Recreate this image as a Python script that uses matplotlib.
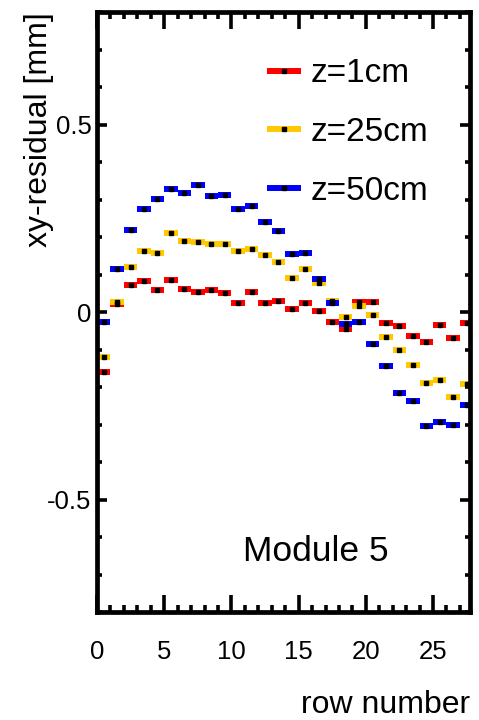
import numpy as np
import matplotlib
matplotlib.use("Agg")
from matplotlib import pyplot as plt
from matplotlib.ticker import MultipleLocator, FuncFormatter

plt.rcParams['font.family'] = ['Liberation Sans', 'DejaVu Sans']
plt.rcParams['axes.unicode_minus'] = False

# residuals per row, one list per z position
rows = np.arange(28) + 0.5
res_z1 = [-0.160, 0.022, 0.072, 0.083, 0.058, 0.085, 0.061, 0.054, 0.058, 0.051,
          0.023, 0.054, 0.023, 0.030, 0.009, 0.023, 0.003, -0.026, -0.046, 0.027,
          0.027, -0.028, -0.036, -0.063, -0.080, -0.035, -0.070, -0.028]
res_z25 = [-0.119, 0.027, 0.120, 0.164, 0.157, 0.211, 0.189, 0.186, 0.182, 0.182,
           0.162, 0.168, 0.152, 0.133, 0.092, 0.116, 0.078, 0.030, -0.014, 0.016,
           -0.008, -0.067, -0.101, -0.140, -0.188, -0.180, -0.226, -0.191]
res_z50 = [-0.026, 0.116, 0.220, 0.276, 0.302, 0.328, 0.317, 0.339, 0.310, 0.313,
           0.276, 0.283, 0.241, 0.217, 0.155, 0.157, 0.089, 0.023, -0.032, -0.026,
           -0.084, -0.143, -0.215, -0.236, -0.305, -0.292, -0.301, -0.249]

series = [(res_z1, '#ff0000', 'z=1cm'),
          (res_z25, '#ffc800', 'z=25cm'),
          (res_z50, '#0000ff', 'z=50cm')]

fig = plt.figure(figsize=(4.79, 7.2), dpi=100)
ax = fig.add_axes([0.2025, 0.15, 0.7787, 0.8333])

for vals, col, lab in series:
    ax.errorbar(rows, vals, xerr=0.5, fmt='s', ms=2.3, mfc='k', mec='k',
                ecolor=col, elinewidth=4.3, capsize=0, label=lab)

ax.set_xlim(0, 27.75)
ax.set_ylim(-0.8, 0.8)

ax.xaxis.set_major_locator(MultipleLocator(5))
ax.xaxis.set_minor_locator(MultipleLocator(1))
ax.yaxis.set_major_locator(MultipleLocator(0.5))
ax.yaxis.set_minor_locator(MultipleLocator(0.1))
ax.yaxis.set_major_formatter(FuncFormatter(lambda v, p: '%g' % round(v, 2)))

for s in ax.spines.values():
    s.set_linewidth(3.4)
ax.tick_params(axis='both', which='both', direction='in', top=True, right=True,
               width=2.6, labelsize=18.5)
ax.tick_params(axis='x', which='major', length=12, pad=20)
ax.tick_params(axis='x', which='minor', length=5)
ax.tick_params(axis='y', which='major', length=7, pad=4)
ax.tick_params(axis='y', which='minor', length=3.5)

ax.set_xlabel('row number', fontsize=23, loc='right')
ax.xaxis.set_label_coords(1.0, -0.13)
ax.set_ylabel('xy-residual [mm]', fontsize=23, loc='top')
ax.yaxis.set_label_coords(-0.115, 1.0)

ax.text(0.587, 0.085, 'Module 5', transform=ax.transAxes, fontsize=25.5,
        ha='center', va='baseline')

ax.legend(loc='upper left', bbox_to_anchor=(0.456, 0.923), frameon=False,
          fontsize=24, handlelength=1.02, handletextpad=0.3, labelspacing=0.83,
          borderpad=0, borderaxespad=0)

fig.savefig('out.png', dpi=100)
